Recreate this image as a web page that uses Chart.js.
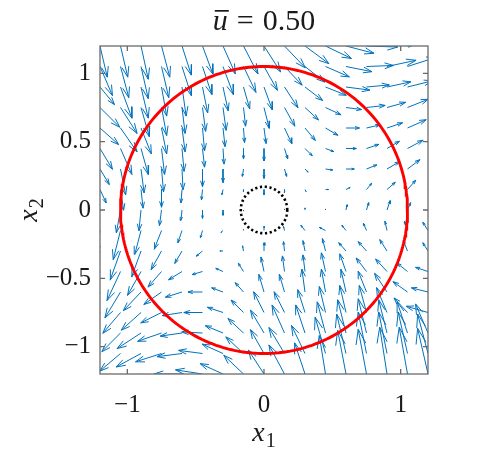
<!DOCTYPE html>
<html>
<head>
<meta charset="utf-8">
<script src="https://cdn.jsdelivr.net/npm/chart.js@4/dist/chart.umd.min.js"></script>
<style>
  html, body { margin: 0; padding: 0; background: #fff; }
  #wrap { width: 478px; height: 455px; }
</style>
</head>
<body>
<div id="wrap"><canvas id="chart" width="478" height="455"></canvas></div>
<script>
// grid of the vector field (rows go from top to bottom)
const X_GRID = [-1.2, -1.05, -0.9, -0.75, -0.6, -0.45, -0.3, -0.15, 0, 0.15, 0.3, 0.45, 0.6, 0.75, 0.9, 1.05, 1.2];
const Y_GRID = [1.2, 1.05, 0.9, 0.75, 0.6, 0.45, 0.3, 0.15, 0, -0.15, -0.3, -0.45, -0.6, -0.75, -0.9, -1.05, -1.2];

// field components, one row per Y_GRID value
const U = [
  [7, 7, 7, 8, 9, 10, 12, 14, 16, 20, 23, 25, 27, 30, 30, 30, 30],
  [12, 8, 7, 7, 9, 9, 10, 12, 13, 17, 19, 23, 25, 26, 28, 28, 28],
  [14, 11, 7, 5, 4, 5, 5, 6, 8, 13, 17, 20, 23, 22, 23, 24, 24],
  [19, 16, 8, 5, 3, 3, 3, 2, 5, 10, 13, 15, 15, 18, 18, 20, 20],
  [18, 16, 10, 5, 3, 2, 2, 1, 2, 7, 10, 12, 13, 13, 15, 18, 18],
  [12, 11, 7, 3, 2, 2, 1, 0, 0, 3, 7, 8, 10, 12, 12, 15, 15],
  [9, 5, 3, 2, 1, 0, 0, -1, 0, 2, 3, 7, 8, 10, 12, 12, 12],
  [6, 3, 2, 0, -1, -1, -1, 0, 0, 0, 1, 3, 4, 5, 8, 8, 9],
  [-2, -4, -2, -2, -1, 0, 0, 0, 0, 0, 0, 0, 1, 2, 3, 3, 3],
  [-3, -7, -6, -7, -4, -2, -2, 0, 0, -1, -4, -6, -4, -3, -2, -3, -5],
  [-5, -10, -9, -10, -7, -6, -3, -1, 0, -1, -2, -3, -7, -8, -7, -4, -5],
  [-5, -13, -13, -13, -13, -10, -7, -5, -3, -2, -2, -4, -6, -10, -11, -10, -12],
  [-5, -15, -17, -17, -16, -14, -11, -8, -5, -5, -3, -4, -5, -8, -12, -14, -16],
  [-5, -17, -19, -20, -19, -18, -15, -12, -10, -10, -7, -6, -6, -7, -10, -13, -21],
  [-5, -18, -23, -23, -21, -20, -17, -15, -13, -12, -9, -8, -8, -8, -8, -10, -12],
  [-5, -20, -24, -25, -24, -23, -20, -17, -13, -15, -13, -10, -9, -8, -8, -9, -10],
  [-5, -20, -25, -27, -27, -26, -22, -19, -15, -15, -10, -6, -8, -8, -7, -8, -10]
];
const V = [
  [-30, -30, -32, -30, -28, -27, -27, -27, -25, -21, -17, -12, -7, -1, 3, 6, 8],
  [-28, -30, -31, -30, -28, -27, -27, -25, -23, -18, -15, -10, -5, 1, 6, 9, 10],
  [-17, -30, -30, -28, -28, -25, -23, -21, -22, -20, -13, -8, -3, 2, 5, 6, 8],
  [-19, -25, -28, -27, -25, -23, -22, -18, -20, -18, -12, -7, -2, 2, 5, 8, 10],
  [-16, -23, -25, -25, -23, -22, -18, -14, -15, -15, -12, -7, 0, 3, 5, 8, 10],
  [-20, -25, -25, -25, -22, -18, -15, -10, -12, -10, -7, -3, 0, 4, 7, 8, 10],
  [-15, -25, -23, -22, -20, -17, -13, -7, -9, -7, -3, -1, 0, 4, 7, 9, 10],
  [-13, -20, -18, -17, -13, -10, -5, -2, -5, -3, -2, 0, 2, 6, 7, 9, 10],
  [-10, -22, -20, -15, -10, -8, -5, -1, 0, 1, 2, 1, 5, 7, 9, 7, 8],
  [-22, -28, -23, -18, -12, -7, -2, 1, 4, 4, 5, 3, 5, 7, 9, 9, 8],
  [-20, -28, -25, -18, -12, -5, 0, 5, 8, 9, 10, 12, 8, 9, 11, 10, 8],
  [-20, -28, -23, -15, -8, -3, 3, 8, 14, 15, 16, 18, 17, 13, 12, 8, 4],
  [-20, -25, -18, -12, -5, 0, 4, 9, 17, 17, 22, 22, 22, 20, 18, 10, 4],
  [-18, -20, -17, -10, -3, 0, 5, 12, 20, 20, 22, 25, 26, 26, 24, 14, 6],
  [-15, -18, -15, -8, -3, 1, 7, 14, 22, 27, 27, 30, 32, 33, 32, 30, 28],
  [-12, -17, -13, -8, -3, 3, 9, 16, 23, 25, 27, 35, 38, 40, 40, 40, 38],
  [-10, -15, -10, -5, 0, 4, 10, 18, 23, 28, 30, 37, 42, 43, 45, 45, 44]
];

const X_TICKS = [-1, 0, 1];
const Y_TICKS = [-1, -0.5, 0, 0.5, 1];
const AXIS_MIN = -1.2;
const AXIS_MAX = 1.2;
const TITLE_VALUE = '0.50';
const BOUNDARY_RADIUS = 1.05;
const INNER_RADIUS = 0.17;

const ARROW_SCALE = 0.0076;  // quiver scale, data units per field unit
const HEAD_ALPHA = 0.33;
const HEAD_BETA = 0.33;

// tail -> head segments plus the two barbs, NaN points break the line
const arrowPoints = [];
Y_GRID.forEach((y, r) => {
  X_GRID.forEach((x, c) => {
    const u = U[r][c] * ARROW_SCALE;
    const v = V[r][c] * ARROW_SCALE;
    const hx = x + u, hy = y + v;
    arrowPoints.push({x: x, y: y}, {x: hx, y: hy}, {x: NaN, y: NaN});
    arrowPoints.push(
      {x: hx - HEAD_ALPHA * (u + HEAD_BETA * v), y: hy - HEAD_ALPHA * (v - HEAD_BETA * u)},
      {x: hx, y: hy},
      {x: hx - HEAD_ALPHA * (u - HEAD_BETA * v), y: hy - HEAD_ALPHA * (v + HEAD_BETA * u)},
      {x: NaN, y: NaN}
    );
  });
});

function circlePoints(radius, n) {
  const pts = [];
  for (let k = 0; k <= n; k++) {
    const t = 2 * Math.PI * k / n;
    pts.push({x: radius * Math.cos(t), y: radius * Math.sin(t)});
  }
  return pts;
}

const SERIF = '"Liberation Serif", "Times New Roman", Times, serif';
const TEXT_COLOR = '#1a1a1a';
const AXIS_COLOR = '#6a6a6a';

function fmt(v) {
  return (v < 0 ? '\u2212' : '') + Math.abs(v);
}

// x with a subscript, drawn like the LaTeX label
function drawSubLabel(ctx, base, sub, size) {
  ctx.font = 'italic ' + size + 'px ' + SERIF;
  const wb = ctx.measureText(base).width;
  ctx.font = Math.round(size * 0.7) + 'px ' + SERIF;
  const ws = ctx.measureText(sub).width;
  const x0 = -(wb + ws + 1) / 2;
  ctx.font = 'italic ' + size + 'px ' + SERIF;
  ctx.fillText(base, x0, 0);
  ctx.font = Math.round(size * 0.7) + 'px ' + SERIF;
  ctx.fillText(sub, x0 + wb + 1, size * 0.22);
}

const framePlugin = {
  id: 'frame',
  afterDraw(chart) {
    const {ctx, chartArea: a, scales} = chart;
    const xs = scales.x, ys = scales.y;
    ctx.save();
    ctx.strokeStyle = AXIS_COLOR;
    ctx.lineWidth = 1.3;
    ctx.strokeRect(a.left, a.top, a.right - a.left, a.bottom - a.top);
    const tl = 5;
    ctx.beginPath();
    X_TICKS.forEach(v => {
      const px = xs.getPixelForValue(v);
      ctx.moveTo(px, a.bottom); ctx.lineTo(px, a.bottom - tl);
      ctx.moveTo(px, a.top); ctx.lineTo(px, a.top + tl);
    });
    Y_TICKS.forEach(v => {
      const py = ys.getPixelForValue(v);
      ctx.moveTo(a.left, py); ctx.lineTo(a.left + tl, py);
      ctx.moveTo(a.right, py); ctx.lineTo(a.right - tl, py);
    });
    ctx.stroke();

    ctx.fillStyle = TEXT_COLOR;
    ctx.textBaseline = 'alphabetic';
    ctx.textAlign = 'left';
    const cx = (a.left + a.right) / 2;

    // title: u-bar = 0.50, LaTeX-like spacing round the equals sign
    const ts = 30;
    const gap = 9;
    ctx.font = 'italic ' + ts + 'px ' + SERIF;
    const wu = ctx.measureText('u').width;
    ctx.font = ts + 'px ' + SERIF;
    const weq = ctx.measureText('=').width;
    const wv = ctx.measureText(TITLE_VALUE).width;
    const tx = cx - (wu + gap + weq + gap + wv) / 2;
    const ty = 30;
    ctx.font = 'italic ' + ts + 'px ' + SERIF;
    ctx.fillText('u', tx, ty);
    ctx.fillRect(tx + 2, ty - 20, wu - 1, 1.7);
    ctx.font = ts + 'px ' + SERIF;
    ctx.fillText('=', tx + wu + gap, ty);
    ctx.fillText(TITLE_VALUE, tx + wu + gap + weq + gap, ty);

    // x label
    ctx.save();
    ctx.translate(cx, 441);
    drawSubLabel(ctx, 'x', '1', 28);
    ctx.restore();

    // y label
    ctx.save();
    ctx.translate(37, (a.top + a.bottom) / 2);
    ctx.rotate(-Math.PI / 2);
    drawSubLabel(ctx, 'x', '2', 28);
    ctx.restore();

    ctx.restore();
  }
};

new Chart(document.getElementById('chart'), {
  type: 'scatter',
  data: {
    datasets: [
      {
        label: 'inner',
        data: circlePoints(INNER_RADIUS, 120),
        showLine: true,
        borderColor: '#000000',
        borderWidth: 2.6,
        borderDash: [2.2, 2.6],
        pointRadius: 0,
        order: 0
      },
      {
        label: 'boundary',
        data: circlePoints(BOUNDARY_RADIUS, 240),
        showLine: true,
        borderColor: '#ff0000',
        borderWidth: 2.9,
        pointRadius: 0,
        order: 1
      },
      {
        label: 'field',
        data: arrowPoints,
        showLine: true,
        spanGaps: false,
        borderColor: '#0072bd',
        borderWidth: 1,
        pointRadius: 0,
        order: 2
      }
    ]
  },
  options: {
    responsive: false,
    animation: false,
    events: [],
    layout: { padding: { top: 46, right: 50, left: 0, bottom: 0 } },
    plugins: {
      legend: { display: false },
      tooltip: { enabled: false },
      title: { display: false }
    },
    scales: {
      x: {
        type: 'linear',
        min: AXIS_MIN,
        max: AXIS_MAX,
        afterBuildTicks: s => { s.ticks = X_TICKS.map(v => ({value: v})); },
        afterFit: s => { s.height = 81; },
        grid: { display: false, drawTicks: false },
        border: { display: false },
        ticks: {
          padding: 16,
          maxRotation: 0,
          color: TEXT_COLOR,
          font: { family: SERIF, size: 25 },
          callback: v => fmt(v)
        }
      },
      y: {
        type: 'linear',
        min: AXIS_MIN,
        max: AXIS_MAX,
        afterBuildTicks: s => { s.ticks = Y_TICKS.map(v => ({value: v})); },
        afterFit: s => { s.width = 100; },
        grid: { display: false, drawTicks: false },
        border: { display: false },
        ticks: {
          padding: 9,
          color: TEXT_COLOR,
          font: { family: SERIF, size: 25 },
          callback: v => fmt(v)
        }
      }
    }
  },
  plugins: [framePlugin]
});
</script>
</body>
</html>
